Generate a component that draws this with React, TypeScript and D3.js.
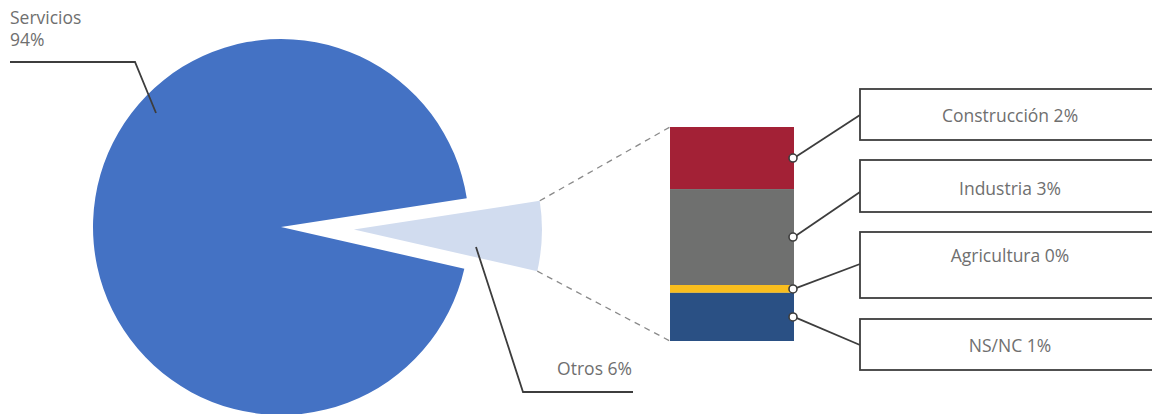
import React from "react";
import * as d3 from "d3";

const pieCategories = ["Otros", "Servicios"];
const pieValues = [6, 94];
const pieColors = ["#D1DCEF", "#4472C4"];

const subCategories = ["Construcción", "Industria", "Agricultura", "NS/NC"];
const subValues = [1.74, 2.69, 0.22, 1.35];
const subColors = ["#A32136", "#6F706F", "#F9BE1E", "#2A5084"];

const W = 1152;
const H = 414;
const FONT = "'Open Sans', Lato, sans-serif";
const FS = 17.5;
const TEXT = "#6f6f6f";
const LINE = "#3d3d3d";

export default function App() {
  const cx = 281;
  const cy = 227;
  const r = 188;
  const start = (81.2 * Math.PI) / 180;
  const pie = d3.pie<number>().sort(null).startAngle(start).endAngle(start + 2 * Math.PI);
  const arcs = pie(pieValues);
  const arcGen = d3.arc<d3.PieArcDatum<number>>().innerRadius(0).outerRadius(r);
  const explode = 73;

  const total = d3.sum(subValues);
  const barX0 = 670;
  const barX1 = 794;
  const y = d3.scaleLinear().domain([0, total]).range([127, 341]);
  const cum = subValues.map((_, i) => d3.sum(subValues.slice(0, i)));

  const otros = arcs[0];
  const ox = explode * Math.sin((otros.startAngle + otros.endAngle) / 2);
  const oy = -explode * Math.cos((otros.startAngle + otros.endAngle) / 2);
  const p1 = [cx + ox + r * Math.sin(otros.startAngle), cy + oy - r * Math.cos(otros.startAngle)];
  const p2 = [cx + ox + r * Math.sin(otros.endAngle), cy + oy - r * Math.cos(otros.endAngle)];

  const boxes = [
    { y0: 89, y1: 140, tail: 115, base: 122 },
    { y0: 160, y1: 212, tail: 192, base: 195 },
    { y0: 232, y1: 298, tail: 264, base: 262 },
    { y0: 319, y1: 370, tail: 345, base: 352 },
  ];

  return (
    <svg width={W} height={H} style={{ position: "absolute", left: 0, top: 0 }} fontFamily={FONT}>
      {arcs.map((a, i) => {
        const off = i === 0 ? [ox, oy] : [0, 0];
        return (
          <path
            key={i}
            d={arcGen(a) || ""}
            transform={`translate(${cx + off[0]},${cy + off[1]})`}
            fill={pieColors[i]}
          />
        );
      })}
      <line x1={p1[0]} y1={p1[1]} x2={barX0} y2={y(0)} stroke="#8a8a8a" strokeWidth={1.3} strokeDasharray="6,5" />
      <line x1={p2[0]} y1={p2[1]} x2={barX0} y2={y(total)} stroke="#8a8a8a" strokeWidth={1.3} strokeDasharray="6,5" />

      {subValues.map((v, i) => (
        <rect key={i} x={barX0} y={y(cum[i])} width={barX1 - barX0} height={y(cum[i] + v) - y(cum[i])} fill={subColors[i]} />
      ))}

      {subValues.map((v, i) => {
        const my = (y(cum[i]) + y(cum[i] + v)) / 2;
        const b = boxes[i];
        return (
          <g key={i}>
            <line x1={barX1} y1={my} x2={860} y2={b.tail} stroke={LINE} strokeWidth={1.8} />
            <circle cx={barX1 - 1} cy={my} r={4} fill="#fff" stroke={LINE} strokeWidth={1.6} />
            <rect x={860} y={b.y0} width={300} height={b.y1 - b.y0} fill="#fff" stroke={LINE} strokeWidth={1.8} />
            <text x={1010} y={b.base} textAnchor="middle" fontSize={FS} fill={TEXT}>
              {`${subCategories[i]} ${Math.round(v)}%`}
            </text>
          </g>
        );
      })}

      <text x={10} y={24} fontSize={FS} fill={TEXT}>{pieCategories[1]}</text>
      <text x={10} y={46} fontSize={FS} fill={TEXT}>{`${pieValues[1]}%`}</text>
      <polyline points="10,62 135,62 156,113" fill="none" stroke={LINE} strokeWidth={1.8} />

      <text x={632} y={375} fontSize={FS} fill={TEXT} textAnchor="end">{`${pieCategories[0]} ${pieValues[0]}%`}</text>
      <polyline points="476,247 523,392 633,392" fill="none" stroke={LINE} strokeWidth={1.8} />
    </svg>
  );
}
